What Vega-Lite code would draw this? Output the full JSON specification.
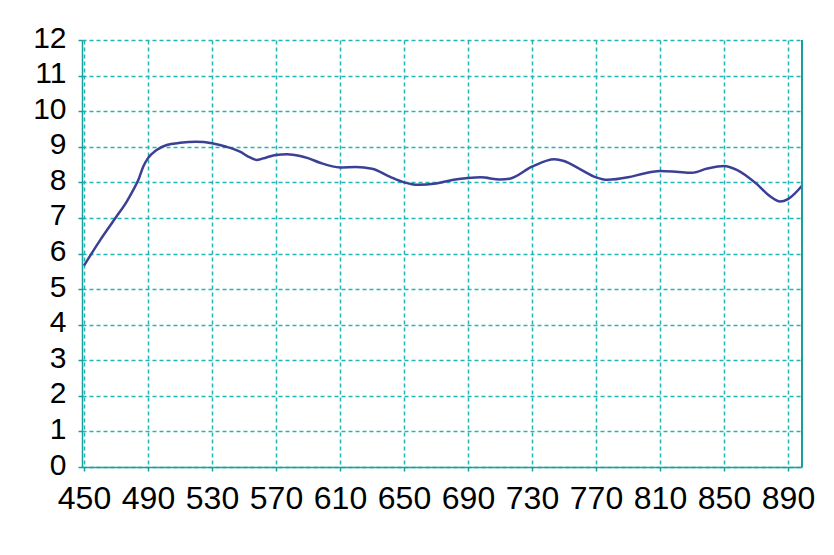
{
  "$schema": "https://vega.github.io/schema/vega-lite/v6.json",
  "width": 720,
  "height": 427,
  "autosize": "none",
  "padding": {"left": 82, "top": 40, "right": 32, "bottom": 88},
  "background": "white",
  "config": {
    "view": {"stroke": null},
    "font": "Liberation Sans"
  },
  "data": {
    "values": [
      {"wl": 450, "v": 5.66}, {"wl": 460, "v": 6.37}, {"wl": 470, "v": 7.02},
      {"wl": 476.7, "v": 7.46}, {"wl": 480.8, "v": 7.79}, {"wl": 484, "v": 8.07},
      {"wl": 487, "v": 8.44}, {"wl": 490, "v": 8.68}, {"wl": 495.4, "v": 8.91},
      {"wl": 501.7, "v": 9.05}, {"wl": 510, "v": 9.11}, {"wl": 520, "v": 9.14},
      {"wl": 530, "v": 9.1}, {"wl": 539, "v": 9.0}, {"wl": 547.5, "v": 8.86},
      {"wl": 553.7, "v": 8.7}, {"wl": 558, "v": 8.63}, {"wl": 564, "v": 8.7},
      {"wl": 570, "v": 8.77}, {"wl": 577, "v": 8.79}, {"wl": 585, "v": 8.74},
      {"wl": 590, "v": 8.68}, {"wl": 597.5, "v": 8.55}, {"wl": 610, "v": 8.42},
      {"wl": 620, "v": 8.43}, {"wl": 630, "v": 8.38}, {"wl": 641, "v": 8.16},
      {"wl": 650, "v": 8.0}, {"wl": 659, "v": 7.93}, {"wl": 670, "v": 7.97},
      {"wl": 681, "v": 8.07}, {"wl": 690, "v": 8.12}, {"wl": 698, "v": 8.14},
      {"wl": 710, "v": 8.08}, {"wl": 716, "v": 8.1}, {"wl": 730, "v": 8.44},
      {"wl": 744, "v": 8.65}, {"wl": 750, "v": 8.6}, {"wl": 760, "v": 8.37},
      {"wl": 770, "v": 8.14}, {"wl": 777, "v": 8.07}, {"wl": 790, "v": 8.14},
      {"wl": 800, "v": 8.25}, {"wl": 810, "v": 8.32}, {"wl": 820, "v": 8.3},
      {"wl": 830, "v": 8.27}, {"wl": 839, "v": 8.38}, {"wl": 850, "v": 8.46},
      {"wl": 858, "v": 8.35}, {"wl": 870, "v": 7.97}, {"wl": 879, "v": 7.6},
      {"wl": 885, "v": 7.46}, {"wl": 890, "v": 7.53}, {"wl": 899, "v": 7.92}
    ]
  },
  "layer": [
    {
      "mark": {"type": "line", "interpolate": "monotone", "color": "#3b4095", "strokeWidth": 2.5},
      "encoding": {
        "x": {
          "field": "wl", "type": "quantitative",
          "scale": {"domain": [448.75, 898.75], "nice": false, "zero": false},
          "axis": {
            "title": null,
            "values": [450, 470, 490, 510, 530, 550, 570, 590, 610, 630, 650, 670, 690, 710, 730, 750, 770, 790, 810, 830, 850, 870, 890],
            "labelExpr": "(datum.value - 450) % 40 == 0 ? datum.label : ''",
            "labelFontSize": 32,
            "labelColor": "#000000",
            "labelPadding": 12,
            "labelFlush": false,
            "labelOverlap": false,
            "format": "d",
            "grid": true,
            "gridColor": "#22b5b5",
            "gridDash": [4, 3],
            "gridWidth": 1.5,
            "domainColor": "#1a9e9e",
            "domainWidth": 1.5,
            "tickColor": "#1a9e9e",
            "tickSize": 4,
            "tickWidth": 1.5
          }
        },
        "y": {
          "field": "v", "type": "quantitative",
          "scale": {"domain": [0, 12], "nice": false},
          "axis": {
            "title": null,
            "values": [0, 1, 2, 3, 4, 5, 6, 7, 8, 9, 10, 11, 12],
            "labelFontSize": 30,
            "labelColor": "#000000",
            "labelPadding": 12,
            "labelOffset": -2,
            "labelFlush": false,
            "labelOverlap": false,
            "grid": true,
            "gridColor": "#22b5b5",
            "gridDash": [4, 3],
            "gridWidth": 1.5,
            "domainColor": "#1a9e9e",
            "domainWidth": 1.5,
            "tickColor": "#1a9e9e",
            "tickSize": 4,
            "tickWidth": 1.5
          }
        }
      }
    },
    {
      "mark": {"type": "rule", "color": "#1a9e9e", "strokeWidth": 1.5},
      "encoding": {
        "x": {"datum": 898.75, "type": "quantitative"}
      }
    }
  ]
}
